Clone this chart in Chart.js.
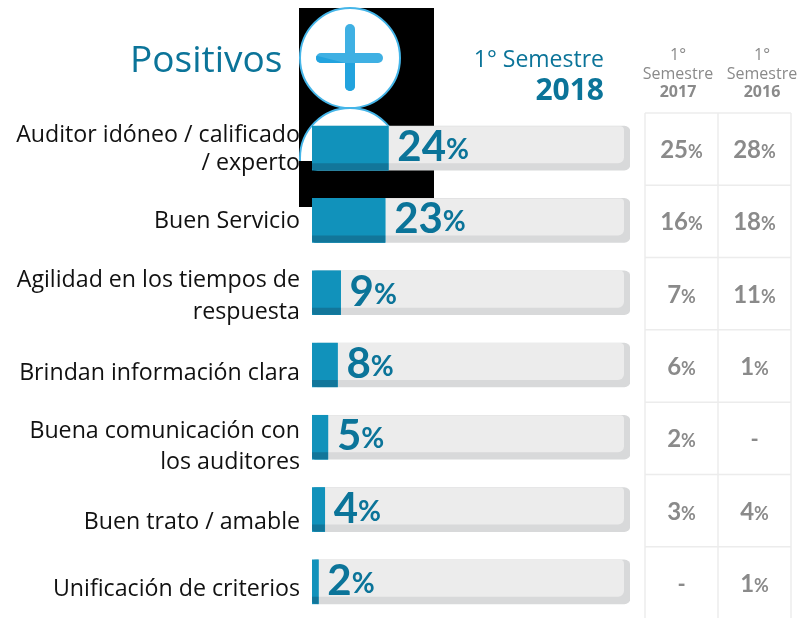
<!DOCTYPE html>
<html>
<head>
<meta charset="utf-8">
<title>Positivos</title>
<script src="https://cdn.jsdelivr.net/npm/chart.js@4"></script>
<style>
  html, body { margin: 0; padding: 0; background: #fff; overflow: hidden; }
  canvas { display: block; }
</style>
</head>
<body>
<canvas id="myChart" width="798" height="618"></canvas>
<script>
var categories = [
    ["Auditor idóneo / calificado", "/ experto"],
    ["Buen Servicio"],
    ["Agilidad en los tiempos de", "respuesta"],
    ["Brindan información clara"],
    ["Buena comunicación con", "los auditores"],
    ["Buen trato / amable"],
    ["Unificación de criterios"]
];
var values2018 = [24, 23, 9, 8, 5, 4, 2];
var values2017 = ["25", "16", "7", "6", "2", "3", "-"];
var values2016 = ["28", "18", "11", "1", "-", "4", "1"];
var trackValues = [100, 100, 100, 100, 100, 100, 100];

// label baselines don't sit evenly in the original
var labelBaselines = [[142, 170], [228], [287, 319], [380], [438, 469], [529], [596]];

var labelFont = "23.2px 'Open Sans'";

function roundBox(ctx, x, y, w, h, r) {
    ctx.beginPath();
    ctx.roundRect(x, y, w, h, r);
    ctx.fill();
}

function drawPlus(ctx) {
    roundBox(ctx, 316, 53, 67, 10, 5);
    roundBox(ctx, 345, 24, 10, 67, 5);
}

// the pasted icon with its black box, sits behind the bars
var iconPlugin = {
    id: "icon",
    beforeDatasetsDraw: function(chart) {
        var ctx = chart.ctx;
        ctx.save();
        ctx.fillStyle = "#000";
        ctx.fillRect(299, 8, 135, 199);

        ctx.fillStyle = "#fff";
        ctx.strokeStyle = "#45b5e8";
        ctx.lineWidth = 2;
        ctx.beginPath();
        ctx.arc(350, 58, 50, 0, Math.PI * 2);
        ctx.fill();
        ctx.stroke();

        ctx.save();
        ctx.beginPath();
        ctx.rect(299, 100, 135, 61);
        ctx.clip();
        ctx.beginPath();
        ctx.arc(350, 158, 50, 0, Math.PI * 2);
        ctx.fill();
        ctx.stroke();
        ctx.restore();

        // plus sign, lighter above the diagonal
        ctx.fillStyle = "#3fb0e3";
        drawPlus(ctx);
        ctx.save();
        ctx.beginPath();
        ctx.moveTo(310, 54);
        ctx.lineTo(345, 63);
        ctx.lineTo(390, 63);
        ctx.lineTo(390, 95);
        ctx.lineTo(310, 95);
        ctx.closePath();
        ctx.clip();
        ctx.fillStyle = "#22a3de";
        drawPlus(ctx);
        ctx.restore();
        ctx.restore();
    },
    afterDatasetDraw: function(chart, args) {
        var ctx = chart.ctx;
        var bars = chart.getDatasetMeta(args.index).data;
        ctx.save();
        bars.forEach(function(bar) {
            var top = bar.y - bar.height / 2;
            if (args.index === 1) {
                // light face of the track
                ctx.fillStyle = "#ececec";
                ctx.beginPath();
                ctx.roundRect(bar.base, top, bar.x - bar.base - 6, bar.height - 7, [0, 4, 6, 0]);
                ctx.fill();
            } else {
                // value bar over the track, darker strip along the bottom
                ctx.fillStyle = "#1192bb";
                ctx.beginPath();
                ctx.roundRect(bar.base, top, bar.x - bar.base, bar.height, [3, 0, 0, 3]);
                ctx.fill();
                ctx.fillStyle = "#12769a";
                ctx.beginPath();
                ctx.roundRect(bar.base, top + bar.height - 7, bar.x - bar.base, 7, [0, 0, 0, 3]);
                ctx.fill();
            }
        });
        ctx.restore();
    }
};

function percentText(ctx, text, x, y, numFont, pctFont, color, pctLift) {
    ctx.textAlign = "left";
    ctx.fillStyle = color;
    ctx.font = numFont;
    ctx.fillText(text, x, y);
    var w = ctx.measureText(text).width;
    ctx.font = pctFont;
    ctx.fillText("%", x + w, y - pctLift);
}

var textPlugin = {
    id: "texts",
    afterDraw: function(chart) {
        var ctx = chart.ctx;
        var y = chart.scales.y;
        var x = chart.scales.x;
        var gridX = [645, 718, 791];
        var rowStep = y.getPixelForValue(1) - y.getPixelForValue(0);
        ctx.save();

        // grid of the two older semesters
        ctx.strokeStyle = "#ececec";
        ctx.lineWidth = 1.5;
        gridX.forEach(function(gx) {
            ctx.beginPath();
            ctx.moveTo(gx, chart.chartArea.top + 1);
            ctx.lineTo(gx, 618);
            ctx.stroke();
        });
        categories.forEach(function(c, i) {
            var gy = y.getPixelForValue(i) - rowStep / 2 + 1;
            ctx.beginPath();
            ctx.moveTo(gridX[0], gy);
            ctx.lineTo(gridX[2], gy);
            ctx.stroke();
        });

        // category labels
        ctx.textBaseline = "alphabetic";
        ctx.textAlign = "right";
        ctx.font = labelFont;
        ctx.fillStyle = "#111";
        categories.forEach(function(lines, i) {
            lines.forEach(function(line, j) {
                ctx.fillText(line, 300, labelBaselines[i][j]);
            });
        });

        // value labels
        values2018.forEach(function(v, i) {
            var cy = y.getPixelForValue(i);
            percentText(ctx, String(v), x.getPixelForValue(v) + 9, cy + 13,
                "bold 42px Lato", "bold 28px Lato", "#0b7499", 2);
        });

        // older semesters
        [values2017, values2016].forEach(function(col, c) {
            col.forEach(function(v, i) {
                var cy = y.getPixelForValue(i) + 2;
                var cx = (gridX[c] + gridX[c + 1]) / 2;
                if (v === "-") {
                    ctx.textAlign = "center";
                    ctx.font = "bold 22px Lato";
                    ctx.fillStyle = "#8a8a8a";
                    ctx.fillText("-", cx, cy + 8);
                    return;
                }
                ctx.font = "bold 24px Lato";
                var w = ctx.measureText(v).width;
                ctx.font = "bold 18px Lato";
                w += ctx.measureText("%").width;
                percentText(ctx, v, cx - w / 2, cy + 8, "bold 24px Lato", "bold 18px Lato", "#8a8a8a", 0);
            });
        });

        // titles
        ctx.textAlign = "left";
        ctx.fillStyle = "#0b7499";
        ctx.font = "37px 'Open Sans'";
        ctx.fillText("Positivos", 130, 72);

        ctx.textAlign = "right";
        ctx.font = "23px 'Open Sans'";
        ctx.fillText("1° Semestre", 604, 67);
        ctx.font = "bold 30px 'Open Sans'";
        ctx.fillText("2018", 604, 100);

        ctx.textAlign = "center";
        ctx.fillStyle = "#8a8a8a";
        [["2017", 678], ["2016", 762]].forEach(function(h) {
            ctx.font = "16px 'Open Sans'";
            ctx.fillText("1°", h[1], 60);
            ctx.fillText("Semestre", h[1], 79);
            ctx.font = "bold 16px 'Open Sans'";
            ctx.fillText(h[0], h[1], 97);
        });
        ctx.restore();
    }
};

var ctx = document.getElementById("myChart").getContext("2d");
var myChart = new Chart(ctx, {
    type: "bar",
    data: {
        labels: categories,
        datasets: [
            {
                label: "1° Semestre 2018",
                data: values2018,
                backgroundColor: "#1192bb",
                order: 1
            },
            {
                label: "Base",
                data: trackValues,
                backgroundColor: "#d8d9da",
                borderRadius: 6,
                borderSkipped: false,
                order: 2
            }
        ]
    },
    options: {
        indexAxis: "y",
        responsive: false,
        animation: false,
        grouped: false,
        barThickness: 44,
        layout: { padding: { left: 312, right: 168, top: 112, bottom: -1 } },
        plugins: { legend: { display: false }, tooltip: { enabled: false } },
        scales: {
            x: { display: false, min: 0, max: 100 },
            y: { display: false, grid: { display: false } }
        }
    },
    plugins: [iconPlugin, textPlugin]
});
</script>
</body>
</html>
